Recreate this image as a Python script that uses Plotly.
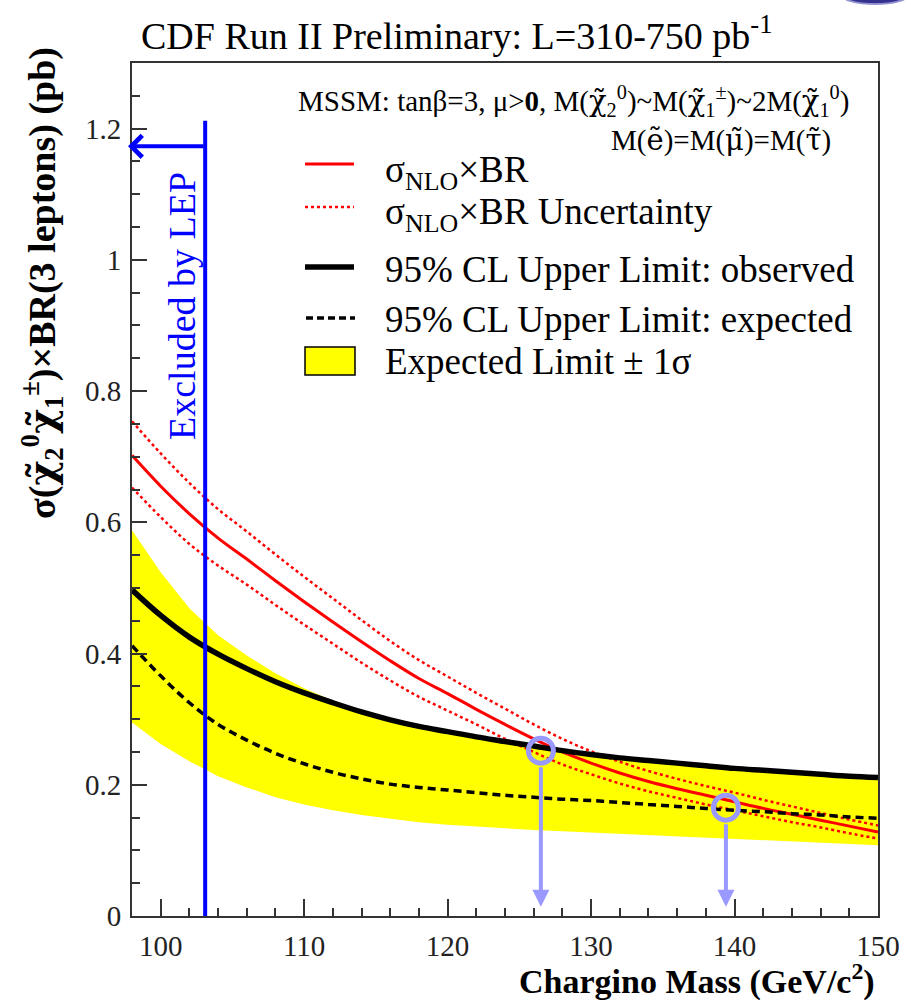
import plotly.graph_objects as go

# Chargino mass grid (GeV/c^2)
mass = [98, 100, 102, 104, 106, 108, 110, 112, 114, 116, 118, 120, 122, 124,
        126, 128, 130, 132, 134, 136, 138, 140, 142, 144, 146, 148, 150]

# 95% CL upper limits (pb)
limit_observed = [0.497, 0.458, 0.425, 0.399, 0.377, 0.357, 0.340, 0.325, 0.311,
                  0.299, 0.289, 0.281, 0.273, 0.266, 0.259, 0.252, 0.246, 0.241,
                  0.237, 0.233, 0.229, 0.225, 0.222, 0.219, 0.216, 0.213, 0.211]
limit_expected = [0.412, 0.366, 0.325, 0.292, 0.268, 0.248, 0.232, 0.219, 0.209,
                  0.201, 0.196, 0.192, 0.188, 0.184, 0.181, 0.178, 0.176, 0.173,
                  0.170, 0.167, 0.164, 0.161, 0.159, 0.156, 0.154, 0.151, 0.149]
expected_plus1s = [0.588, 0.524, 0.469, 0.428, 0.397, 0.370, 0.347, 0.328, 0.312,
                   0.298, 0.288, 0.279, 0.271, 0.264, 0.257, 0.250, 0.244, 0.239,
                   0.235, 0.231, 0.227, 0.223, 0.220, 0.217, 0.214, 0.211, 0.209]
expected_minus1s = [0.295, 0.262, 0.236, 0.213, 0.196, 0.181, 0.170, 0.161, 0.154,
                    0.148, 0.143, 0.139, 0.136, 0.133, 0.131, 0.129, 0.127, 0.125,
                    0.123, 0.121, 0.119, 0.117, 0.115, 0.113, 0.111, 0.110, 0.108]

# NLO cross section x BR and its uncertainty band (pb)
xsec_nlo = [0.702, 0.655, 0.613, 0.576, 0.544, 0.511, 0.479, 0.448, 0.418,
            0.389, 0.362, 0.339, 0.315, 0.292, 0.270, 0.250, 0.233, 0.218,
            0.205, 0.194, 0.184, 0.174, 0.164, 0.155, 0.146, 0.137, 0.128]
xsec_nlo_up = [0.754, 0.705, 0.660, 0.620, 0.586, 0.551, 0.517, 0.484, 0.451,
               0.419, 0.390, 0.365, 0.340, 0.316, 0.292, 0.270, 0.251, 0.235,
               0.221, 0.209, 0.198, 0.188, 0.177, 0.167, 0.157, 0.147, 0.138]
xsec_nlo_down = [0.653, 0.608, 0.567, 0.534, 0.505, 0.474, 0.444, 0.415, 0.386,
                 0.359, 0.334, 0.313, 0.292, 0.270, 0.250, 0.231, 0.216, 0.202,
                 0.190, 0.180, 0.170, 0.161, 0.152, 0.143, 0.135, 0.126, 0.118]

# LEP exclusion and the two highlighted crossing points
lep_limit = 103.1
lep_line_top = 1.212
lep_arrow_y = 1.173
crossing_mass = [126.5, 139.4]
crossing_xsec = [0.252, 0.165]

X_RANGE = [98, 150]
Y_RANGE = [0, 1.3]

# plot frame in page pixels
L, R, T, B = 132, 878, 63, 916
W, H = 911, 1003


def px(x):
    return (x - L) / (R - L)


def py(y):
    return (B - y) / (B - T)


SERIF = "Liberation Serif, Times New Roman, serif"
RED = "#ff0000"
BLUE = "#0000ff"
LILAC = "#9999ff"


def sparticle(ch):
    """Letter with a tilde accent, set in a font with good combining-mark support."""
    return '<span style="font-family:DejaVu Serif">' + ch + "\u0303</span>"


CHI = sparticle("χ")

fig = go.Figure()

# +-1 sigma band around the expected limit
fig.add_trace(go.Scatter(x=mass, y=expected_minus1s, mode="lines",
                         line=dict(width=0, color="#ffff00"), showlegend=False,
                         hoverinfo="skip"))
fig.add_trace(go.Scatter(x=mass, y=expected_plus1s, mode="lines", fill="tonexty",
                         fillcolor="#ffff00", line=dict(width=0, color="#ffff00"),
                         showlegend=False))

# theory curves
for ys in (xsec_nlo_up, xsec_nlo_down):
    fig.add_trace(go.Scatter(x=mass, y=ys, mode="lines", line_shape="spline",
                             line=dict(color=RED, width=2.5, dash="dot"),
                             showlegend=False))
fig.add_trace(go.Scatter(x=mass, y=xsec_nlo, mode="lines", line_shape="spline",
                         line=dict(color=RED, width=3), showlegend=False))

# limits
fig.add_trace(go.Scatter(x=mass, y=limit_expected, mode="lines", line_shape="spline",
                         line=dict(color="black", width=3.5, dash="8px,5px"),
                         showlegend=False))
fig.add_trace(go.Scatter(x=mass, y=limit_observed, mode="lines", line_shape="spline",
                         line=dict(color="black", width=5.5), showlegend=False))

# LEP exclusion line
fig.add_trace(go.Scatter(x=[lep_limit, lep_limit], y=[0, lep_line_top], mode="lines",
                         line=dict(color=BLUE, width=4), showlegend=False))

# crossing markers
fig.add_trace(go.Scatter(x=crossing_mass, y=crossing_xsec, mode="markers",
                         marker=dict(symbol="circle-open", size=25, color=LILAC,
                                     line=dict(color=LILAC, width=5)),
                         showlegend=False))

annotations = []

# arrows from the crossings down to the mass axis
for xm, ys in zip(crossing_mass, crossing_xsec):
    annotations.append(dict(x=xm, y=0.014, xref="x", yref="y",
                            ax=xm, ay=ys - 0.023, axref="x", ayref="y",
                            showarrow=True, arrowhead=2, arrowsize=0.85,
                            arrowwidth=4, arrowcolor=LILAC, text=""))

# LEP arrow pointing to the excluded region
lep_px = L + (lep_limit - X_RANGE[0]) / (X_RANGE[1] - X_RANGE[0]) * (R - L)
arrow_py = B - lep_arrow_y / (Y_RANGE[1] - Y_RANGE[0]) * (B - T)
annotations.append(dict(x=px(128), y=py(arrow_py), xref="paper", yref="paper",
                        ax=lep_px - 128, ay=0, axref="pixel", ayref="pixel",
                        showarrow=True, arrowhead=4, arrowsize=1.05, arrowwidth=4,
                        arrowcolor=BLUE, text=""))

annotations.append(dict(x=px(182), y=py(306), xref="paper", yref="paper",
                        xanchor="center", yanchor="middle",
                        text="Excluded by LEP", textangle=-90, showarrow=False,
                        font=dict(family=SERIF, size=38, color=BLUE)))

# title and model description
annotations.append(dict(x=px(139), y=py(33), xref="paper", yref="paper",
                        xanchor="left", yanchor="middle", showarrow=False,
                        text="CDF Run II Preliminary: L=310-750 pb<sup>-1</sup>",
                        font=dict(family=SERIF, size=38, color="black")))
annotations.append(dict(x=px(851), y=py(101), xref="paper", yref="paper",
                        xanchor="right", yanchor="middle", showarrow=False,
                        text="MSSM: tanβ=3, μ><b>0</b>, M(" + CHI + "<sub>2</sub><sup>0</sup>)~"
                             "M(" + CHI + "<sub>1</sub><sup>±</sup>)~2M(" + CHI
                             + "<sub>1</sub><sup>0</sup>)",
                        font=dict(family=SERIF, size=29, color="black")))
annotations.append(dict(x=px(833), y=py(140), xref="paper", yref="paper",
                        xanchor="right", yanchor="middle", showarrow=False,
                        text="M(" + sparticle("e") + ")=M(" + sparticle("μ") + ")=M("
                             + sparticle("τ") + ")",
                        font=dict(family=SERIF, size=29, color="black")))

# legend
legend_rows = [
    (172, "σ<sub>NLO</sub>×BR"),
    (214, "σ<sub>NLO</sub>×BR Uncertainty"),
    (269, "95% CL Upper Limit: observed"),
    (319, "95% CL Upper Limit: expected"),
    (362, "Expected Limit ± 1σ"),
]
for yrow, label in legend_rows:
    annotations.append(dict(x=px(383), y=py(yrow), xref="paper", yref="paper",
                            xanchor="left", yanchor="middle", showarrow=False,
                            text=label, font=dict(family=SERIF, size=37, color="black")))

# axis titles
annotations.append(dict(x=px(42), y=py(283), xref="paper", yref="paper",
                        xanchor="center", yanchor="middle",
                        textangle=-90, showarrow=False,
                        text="<b>σ(" + CHI + "<sub>2</sub><sup>0</sup>" + CHI
                             + "<sub>1</sub><sup>±</sup>)×BR(3 leptons) (pb)</b>",
                        font=dict(family=SERIF, size=38, color="black")))
annotations.append(dict(x=px(877), y=py(1003), xref="paper", yref="paper",
                        xanchor="right", yanchor="bottom", showarrow=False,
                        text="<b>Chargino Mass (GeV/c<sup>2</sup>)</b>",
                        font=dict(family=SERIF, size=34, color="black")))

shapes = [
    dict(type="line", xref="paper", yref="paper", x0=px(305), x1=px(354),
         y0=py(164), y1=py(164), line=dict(color=RED, width=3)),
    dict(type="line", xref="paper", yref="paper", x0=px(305), x1=px(354),
         y0=py(207), y1=py(207), line=dict(color=RED, width=2.5, dash="dot")),
    dict(type="line", xref="paper", yref="paper", x0=px(305), x1=px(354),
         y0=py(267), y1=py(267), line=dict(color="black", width=5.5)),
    dict(type="line", xref="paper", yref="paper", x0=px(306), x1=px(355),
         y0=py(318), y1=py(318), line=dict(color="black", width=3.5, dash="7px,4px")),
    dict(type="rect", xref="paper", yref="paper", x0=px(305), x1=px(355),
         y0=py(375), y1=py(347), fillcolor="#ffff00",
         line=dict(color="black", width=1.5)),
    # corner emblem
    dict(type="circle", xref="paper", yref="paper", x0=px(842), x1=px(908),
         y0=py(4), y1=py(-14), fillcolor="#33338f",
         line=dict(color="#9090d0", width=2)),
]

axis_common = dict(showline=True, linecolor="#333333", linewidth=2, mirror=True,
                   ticks="inside", tickcolor="#333333", tickwidth=2,
                   showgrid=False, zeroline=False,
                   tickfont=dict(family=SERIF, size=29, color="#222222"))

fig.update_layout(
    width=W, height=H,
    margin=dict(l=L, r=W - R, t=T, b=H - B),
    paper_bgcolor="white", plot_bgcolor="white",
    showlegend=False,
    xaxis=dict(range=X_RANGE, tick0=100, dtick=10, ticklen=17,
               ticklabelstandoff=3,
               minor=dict(ticks="inside", ticklen=8, dtick=2, tickcolor="#333333",
                          tickwidth=2),
               **axis_common),
    yaxis=dict(range=Y_RANGE, tick0=0, dtick=0.2, ticklen=15,
               ticklabelstandoff=3,
               minor=dict(ticks="inside", ticklen=8, dtick=0.05, tickcolor="#333333",
                          tickwidth=2),
               **axis_common),
    annotations=annotations,
    shapes=shapes,
)

fig.write_html("out.html")
